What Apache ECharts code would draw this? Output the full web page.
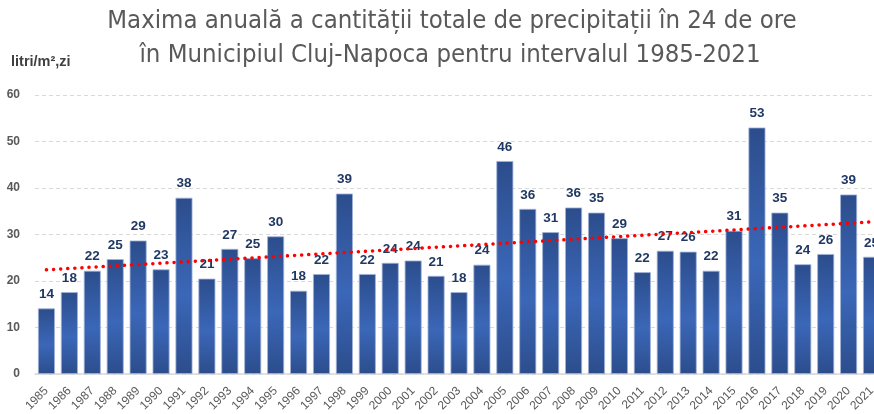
<!DOCTYPE html>
<html>
<head>
<meta charset="utf-8">
<script src="https://cdn.jsdelivr.net/npm/echarts@6/dist/echarts.min.js"></script>
<style>
html,body{margin:0;padding:0;background:#fff;}
#chart{width:874px;height:414px;}
</style>
</head>
<body>
<div id="chart"></div>
<script>
var years = ['1985','1986','1987','1988','1989','1990','1991','1992','1993','1994','1995','1996','1997','1998','1999','2000','2001','2002','2003','2004','2005','2006','2007','2008','2009','2010','2011','2012','2013','2014','2015','2016','2017','2018','2019','2020','2021'];
var maxima = [14.1,17.6,22.2,24.7,28.7,22.5,37.9,20.5,26.9,24.9,29.6,17.9,21.5,38.8,21.5,23.9,24.4,21.1,17.6,23.5,45.8,35.5,30.5,35.8,34.7,29.2,21.9,26.5,26.3,22.2,30.8,53.0,34.7,23.6,25.8,38.6,25.2];
var trendStart = 22.4;
var trendEnd = 32.7;
var yTicks = [0,10,20,30,40,50,60];
var titleLines = ['Maxima anuală a cantității totale de precipitații în 24 de ore','în Municipiul Cluj-Napoca pentru intervalul 1985-2021'];
var yAxisName = 'litri/m²,zi';

var trendData = years.map(function(y,i){
  if(i===0) return trendStart;
  if(i===years.length-1) return trendEnd;
  return null;
});

var chart = echarts.init(document.getElementById('chart'));
var titleFont = "'Liberation Sans Narrow','DejaVu Sans Condensed','Liberation Sans',sans-serif";
chart.setOption({
  animation:false,
  backgroundColor:'#ffffff',
  graphic:[
    {type:'text', x:452, y:8, style:{text:titleLines[0], align:'center', verticalAlign:'top', font:"normal 25.5px "+titleFont, fill:'#595959'}},
    {type:'text', x:450, y:42, style:{text:titleLines[1], align:'center', verticalAlign:'top', font:"normal 25.5px "+titleFont, fill:'#595959'}},
    {type:'text', x:11, y:54, style:{text:yAxisName, verticalAlign:'top', font:"bold 14.5px 'Liberation Sans Narrow','Liberation Sans',sans-serif", fill:'#404040'}}
  ],
  grid:{left:35, width:848, top:95, bottom:40, containLabel:false, outerBoundsMode:'none'},
  xAxis:{
    type:'category', data:years,
    axisTick:{show:false},
    axisLine:{lineStyle:{color:'#d9d9d9', width:1.5}},
    axisLabel:{rotate:45, interval:0, fontSize:12, color:'#595959', margin:15, fontFamily:"'Liberation Sans',sans-serif"}
  },
  yAxis:{
    type:'value', min:yTicks[0], max:yTicks[yTicks.length-1], interval:10,
    axisLine:{show:false}, axisTick:{show:false},
    axisLabel:{fontSize:12, fontWeight:'bold', color:'#595959', margin:15, fontFamily:"'Liberation Sans',sans-serif"},
    splitLine:{lineStyle:{color:'#d9d9d9', type:[4,3], width:1}}
  },
  series:[
    {type:'bar', data:maxima, barWidth:'74%',
     itemStyle:{
       color:new echarts.graphic.LinearGradient(0,0,0,1,[
         {offset:0,color:'#2c4d8c'},{offset:0.55,color:'#3b67b8'},{offset:1,color:'#2c4d8c'}]),
       borderColor:'#9fb2d8', borderWidth:0.8
     },
     label:{show:true, position:'top', distance:7, color:'#1f3864', fontWeight:'bold', fontSize:13.5,
       fontFamily:"'Liberation Sans',sans-serif",
       formatter:function(p){return Math.round(p.value);}}
    },
    {type:'line', data:trendData, connectNulls:true, symbol:'none', z:5,
     lineStyle:{color:'#ff0000', width:3.5, type:[0.1,7], cap:'round'}}
  ]
});
</script>
</body>
</html>
